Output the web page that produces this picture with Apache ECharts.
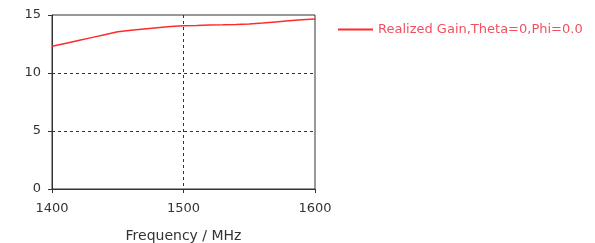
<!DOCTYPE html>
<html>
<head>
<meta charset="utf-8">
<script src="https://cdn.jsdelivr.net/npm/echarts@6/dist/echarts.min.js"></script>
<style>
html, body { margin: 0; padding: 0; background: #fff; }
#chartmain { width: 595px; height: 243px; }
</style>
</head>
<body>
<div id="chartmain"></div>
<script>
var freq = [1400, 1410, 1420, 1430, 1440, 1450, 1460, 1470, 1480, 1490, 1500,
            1510, 1520, 1530, 1540, 1550, 1560, 1570, 1580, 1590, 1600];
var gain = [12.3, 12.55, 12.8, 13.05, 13.3, 13.55, 13.68, 13.8, 13.9, 14.0, 14.08,
            14.1, 14.13, 14.15, 14.18, 14.22, 14.3, 14.4, 14.5, 14.58, 14.65];
var seriesName = 'Realized Gain,Theta=0,Phi=0.0';

var points = [];
for (var i = 0; i < freq.length; i++) {
	points.push([freq[i], gain[i]]);
}

var fontFamily = 'DejaVu Sans';
var option = {
	animation : false,
	textStyle : { fontFamily : fontFamily },
	grid : {
		left : 52,
		top : 15,
		width : 263,
		height : 174,
		outerBoundsMode : 'none',
		containLabel : false,
		show : true,
		borderColor : '#333',
		borderWidth : 1
	},
	legend : {
		left : 333,
		top : 18,
		itemWidth : 35,
		itemHeight : 2,
		itemGap : 6,
		icon : 'rect',
		data : [ seriesName ],
		textStyle : { color : '#f0505e', fontSize : 13, fontFamily : fontFamily }
	},
	xAxis : {
		type : 'value',
		min : 1400,
		max : 1600,
		interval : 100,
		name : 'Frequency / MHz',
		nameLocation : 'middle',
		nameGap : 40,
		nameTextStyle : { color : '#333', fontSize : 14 },
		axisLine : { lineStyle : { color : '#333' } },
		axisTick : { length : 4, lineStyle : { color : '#333' } },
		axisLabel : { color : '#333', fontSize : 13, margin : 13,
			formatter : function (v) { return String(v); } },
		splitLine : { showMinLine : false, showMaxLine : false,
			lineStyle : { color : '#333', type : [3, 3] } }
	},
	yAxis : {
		type : 'value',
		min : 0,
		max : 15,
		interval : 5,
		axisLine : { show : true, lineStyle : { color : '#333' } },
		axisTick : { show : true, length : 4, lineStyle : { color : '#333' } },
		axisLabel : { color : '#333', fontSize : 13, margin : 11 },
		splitLine : { showMinLine : false, showMaxLine : false,
			lineStyle : { color : '#333', type : [3, 3] } }
	},
	series : [ {
		name : seriesName,
		type : 'line',
		data : points,
		showSymbol : false,
		lineStyle : { color : '#ff2a2a', width : 1.5 },
		itemStyle : { color : '#ff2a2a' }
	} ]
};
var myChart = echarts.init(document.getElementById('chartmain'));
myChart.setOption(option);
</script>
</body>
</html>
